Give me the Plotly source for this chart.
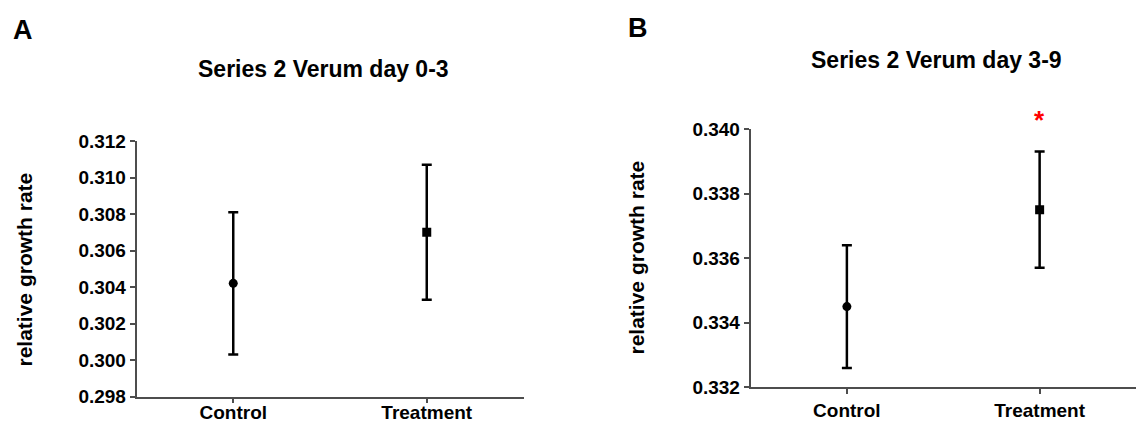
import plotly.graph_objects as go

categories = ["Control", "Treatment"]
a_mean = [0.3042, 0.3070]
a_err = [0.0039, 0.0037]
b_mean = [0.3345, 0.3375]
b_err = [0.0019, 0.0018]
a_ticks = [0.298, 0.300, 0.302, 0.304, 0.306, 0.308, 0.310, 0.312]
b_ticks = [0.332, 0.334, 0.336, 0.338, 0.340]
markers = ["circle", "square"]

FONT = "Liberation Sans, Arial, sans-serif"
AX = "#4d4d4d"

fig = go.Figure()
for xa, ya, mean, err in [("x", "y", a_mean, a_err), ("x2", "y2", b_mean, b_err)]:
    fig.add_trace(go.Scatter(
        x=[0, 1], y=mean, mode="markers", xaxis=xa, yaxis=ya,
        marker=dict(symbol=markers, size=9, color="black"),
        error_y=dict(type="data", array=err, color="black", thickness=2.5, width=5),
        showlegend=False,
    ))

xcommon = dict(
    tickmode="array", tickvals=[0, 1], ticktext=categories, range=[-0.5, 1.5],
    showline=True, linecolor=AX, linewidth=1.5, ticks="outside", ticklen=5,
    tickcolor=AX, tickwidth=1.5, showgrid=False, zeroline=False, automargin=False,
    tickfont=dict(family=FONT, size=19, color="black", weight="bold"),
)
ycommon = dict(
    showline=True, linecolor=AX, linewidth=1.5, ticks="outside", ticklen=5,
    tickcolor=AX, tickwidth=1.5, showgrid=False, zeroline=False, automargin=False,
    tickfont=dict(family=FONT, size=19, color="black", weight="bold"),
)

fig.update_layout(
    width=1136, height=423, autosize=False,
    margin=dict(l=0, r=0, t=0, b=0, pad=0, autoexpand=False),
    paper_bgcolor="white", plot_bgcolor="white",
    xaxis=dict(domain=[136.5/1136, 523.5/1136], anchor="y", ticklabelstandoff=-7, **xcommon),
    yaxis=dict(domain=[1-396.5/423, 1-141/423], anchor="x", range=[0.298, 0.312],
               tickvals=a_ticks, tickformat=".3f", **ycommon),
    xaxis2=dict(domain=[750.5/1136, 1.0], anchor="y2", **xcommon),
    yaxis2=dict(domain=[1-387.3/423, 1-129/423], anchor="x2", range=[0.332, 0.340],
                tickvals=b_ticks, tickformat=".3f", **ycommon),
)

def txt(text, x, y, size, angle=0, color="black"):
    fig.add_annotation(text=text, x=x, y=y, xref="paper", yref="paper", showarrow=False,
                       xanchor="center", yanchor="middle", textangle=angle,
                       font=dict(family=FONT, size=size, color=color, weight="bold"))

txt("A", 23/1136, 1-29.5/423, 27)
txt("B", 638/1136, 1-28/423, 27)
txt("Series 2 Verum day 0-3", 323/1136, 1-69/423, 23)
txt("Series 2 Verum day 3-9", 936/1136, 1-60/423, 23)
txt("relative growth rate", 24/1136, 1-269.5/423, 21, angle=-90)
txt("relative growth rate", 636/1136, 1-257.5/423, 21, angle=-90)

# significance star above Treatment in panel B
fig.add_annotation(text="*", x=1, xref="x2", y=1-120/423, yref="paper", showarrow=False,
                   xanchor="center", yanchor="middle",
                   font=dict(family=FONT, size=26, color="red", weight="bold"))

fig.write_html(
    "out.html",
    config={"displayModeBar": False},
    post_script="document.body.style.margin='0';document.body.style.overflow='hidden';",
)
